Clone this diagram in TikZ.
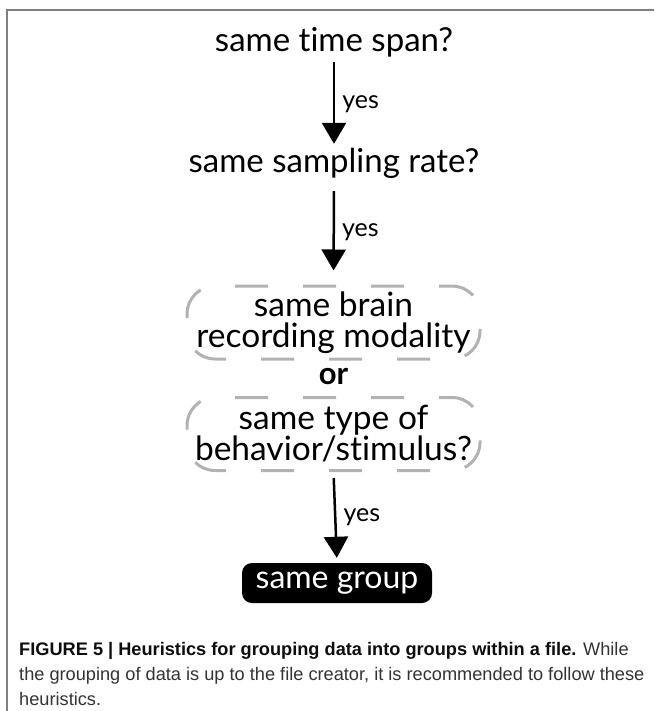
\documentclass[tikz,border=0pt]{standalone}
\usepackage{fontspec}
\setmainfont{Lato}[Ligatures={NoCommon}]
\newfontfamily\capfont{Liberation Sans}
\usetikzlibrary{arrows.meta}
\begin{document}
\begin{tikzpicture}[x=1pt,y=-1pt,
 question/.style={inner sep=0pt,text height=24pt,text depth=7pt,font=\fontsize{33}{33}\selectfont},
 choice/.style={draw=black!30,line width=3pt,dash pattern=on 33pt off 35pt,dash phase=20pt,rounded corners=28pt,
  minimum width=293pt,minimum height=73pt,inner sep=0pt,align=center,font=\fontsize{33.5}{31}\selectfont},
 flow/.style={line width=2.5pt,-{Triangle[width=24pt,length=21pt]}},
 answer/.style={right,inner sep=7pt,font=\fontsize{25}{25}\selectfont}]
 \useasboundingbox (0,0) rectangle (654,711);
 % frame
 \draw[black!50,line width=2pt](7,711)--(7,10)--(654,10);
 % questions
 \node[question,anchor=base] (span) at (334,52) {same time span?};
 \node[question,anchor=base] (rate) at (334,173) {same sampling rate?};
 \node[choice] (brain) at (333.5,322.5) {same brain\\recording modality};
 \node[font=\fontsize{31}{31}\selectfont\bfseries] (orr) at (333.5,377) {or};
 \node[choice] (behav) at (333.5,434) {same type of\\behavior/stimulus?};
 \node[fill=black,text=white,rounded corners=10pt,minimum width=190pt,minimum height=40pt,
  inner sep=0pt,font=\fontsize{32}{32}\selectfont] (group) at (337,583) {same group};
 % arrows
 \draw[flow,shorten <=3pt,shorten >=5pt] (span.south) -- node[answer]{yes} (rate.north);
 \draw[flow,shorten <=11pt,shorten >=14pt] (rate.south) -- node[answer]{yes} (brain.north);
 \draw[flow,shorten <=6pt,shorten >=5pt] (behav.south) -- node[answer]{yes} (group.north);
 % caption
 \node[anchor=north west,inner sep=0pt,align=left,text=black!80,
  font=\capfont\fontsize{18.2}{25}\selectfont] (caption) at (19,642)
  {\textcolor{black!95}{\textbf{FIGURE 5 | Heuristics for grouping data into groups within a file.}} While\\
   the grouping of data is up to the file creator, it is recommended to follow these\\
   heuristics.};
\end{tikzpicture}
\end{document}
